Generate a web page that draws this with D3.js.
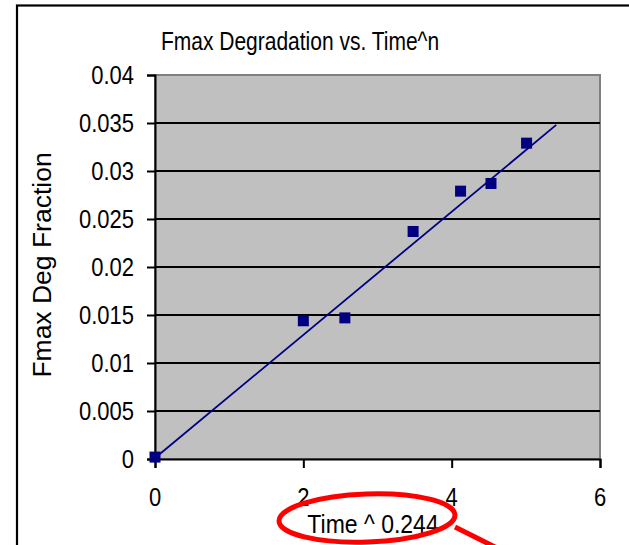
<!DOCTYPE html>
<html>
<head>
<meta charset="utf-8">
<script src="https://cdn.jsdelivr.net/npm/d3@7"></script>
<style>
  html, body { margin: 0; padding: 0; background: #fff; }
  svg { display: block; font-family: "Liberation Sans", Arial, sans-serif; }
</style>
</head>
<body>
<svg id="chart" width="629" height="545"></svg>
<script>
// Measured points: transformed time vs. Fmax degradation fraction
const timePow = [0, 2.0, 2.56, 3.48, 4.12, 4.53, 5.01];
const degFraction = [0.0002, 0.0144, 0.0147, 0.0237, 0.0279, 0.0287, 0.0329];

// Linear trendline end points
const trendX = [0, 5.41];
const trendY = [0.0001, 0.0348];

const xTicks = [0, 2, 4, 6];
const yTicks = [0, 0.005, 0.01, 0.015, 0.02, 0.025, 0.03, 0.035, 0.04];

const titleText = "Fmax Degradation vs. Time^n";
const xTitle = "Time ^ 0.244";
const yTitle = "Fmax Deg Fraction";

const svg = d3.select("#chart");
const plot = { left: 155, right: 600, top: 75, bottom: 459 };

const x = d3.scaleLinear().domain([0, 6]).range([plot.left, plot.right]);
const y = d3.scaleLinear().domain([0, 0.04]).range([plot.bottom, plot.top]);

// outer chart frame (right and bottom edges fall outside the view)
svg.append("rect")
  .attr("x", 17).attr("y", 5.5)
  .attr("width", 700).attr("height", 700)
  .attr("fill", "#fff").attr("stroke", "#000").attr("stroke-width", 2.2);

// plot area
svg.append("rect")
  .attr("x", plot.left).attr("y", plot.top)
  .attr("width", plot.right - plot.left).attr("height", plot.bottom - plot.top)
  .attr("fill", "#c0c0c0").attr("stroke", "#808080").attr("stroke-width", 2);

// horizontal gridlines
svg.append("g").selectAll("line")
  .data(yTicks.filter(d => d > 0 && d < 0.04))
  .join("line")
  .attr("x1", plot.left).attr("x2", plot.right)
  .attr("y1", d => y(d)).attr("y2", d => y(d))
  .attr("stroke", "#000").attr("stroke-width", 2);

// axes (tick marks only; labels are drawn below with a taller glyph shape)
const yAxis = d3.axisLeft(y).tickValues(yTicks).tickSize(8).tickFormat("");
const xAxis = d3.axisBottom(x).tickValues(xTicks).tickSize(9).tickFormat("");

const gy = svg.append("g").attr("transform", `translate(${plot.left},0)`).call(yAxis);
const gx = svg.append("g").attr("transform", `translate(0,${plot.bottom})`).call(xAxis);

[gx, gy].forEach(g => {
  g.select(".domain").attr("stroke", "#000").attr("stroke-width", 2);
  g.selectAll(".tick line").attr("stroke", "#000").attr("stroke-width", 2);
});

const fmtY = d => String(+d.toFixed(3));
const tickFont = 22, tickStretch = 1.15;

svg.append("g").selectAll("text")
  .data(yTicks)
  .join("text")
  .attr("transform", d => `translate(134,${y(d)}) scale(1,${tickStretch})`)
  .attr("dy", "0.36em")
  .attr("text-anchor", "end")
  .style("font-size", tickFont + "px")
  .text(fmtY);

svg.append("g").selectAll("text")
  .data(xTicks)
  .join("text")
  .attr("transform", d => `translate(${x(d)},506) scale(1,${tickStretch})`)
  .attr("text-anchor", "middle")
  .style("font-size", tickFont + "px")
  .text(d => d);

// trendline
svg.append("line")
  .attr("x1", x(trendX[0])).attr("y1", y(trendY[0]))
  .attr("x2", x(trendX[1])).attr("y2", y(trendY[1]))
  .attr("stroke", "#000080").attr("stroke-width", 1.8);

// data markers
const ms = 11;
svg.append("g").selectAll("rect")
  .data(timePow.map((t, i) => [t, degFraction[i]]))
  .join("rect")
  .attr("x", d => x(d[0]) - ms / 2).attr("y", d => y(d[1]) - ms / 2)
  .attr("width", ms).attr("height", ms)
  .attr("fill", "#000080");

// titles
svg.append("text")
  .attr("transform", "translate(300,50) scale(1,1.2)")
  .attr("text-anchor", "middle")
  .style("font-size", "21px")
  .text(titleText);

svg.append("text")
  .attr("transform", "translate(51,265) rotate(-90) scale(1.06,1)")
  .attr("text-anchor", "middle")
  .style("font-size", "25px")
  .text(yTitle);

svg.append("text")
  .attr("transform", "translate(373,533) scale(1,1.12)")
  .attr("text-anchor", "middle")
  .style("font-size", "23px")
  .text(xTitle);

// red annotation: ellipse around the exponent and a pointer line
svg.append("ellipse")
  .attr("cx", 367).attr("cy", 518)
  .attr("rx", 88).attr("ry", 24)
  .attr("transform", "rotate(-2,367,518)")
  .attr("fill", "none").attr("stroke", "#ff0000").attr("stroke-width", 5);

svg.append("line")
  .attr("x1", 455).attr("y1", 527)
  .attr("x2", 505).attr("y2", 552)
  .attr("stroke", "#ff0000").attr("stroke-width", 5);
</script>
</body>
</html>
